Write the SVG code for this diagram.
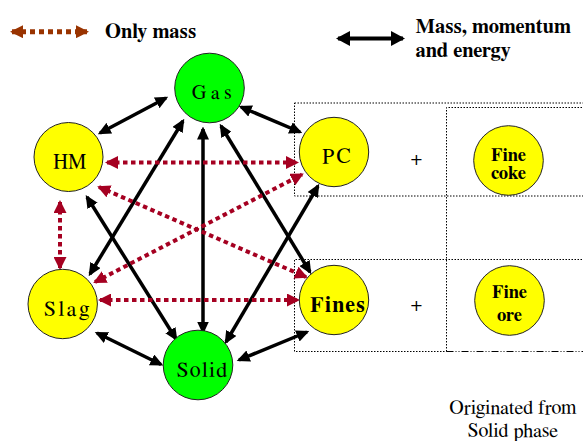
<svg xmlns="http://www.w3.org/2000/svg" width="583" height="441" viewBox="0 0 583 441">
<style>
.node{stroke:#222;stroke-width:1}
.g{fill:#00ff00}
.y{fill:#ffff00}
text{font-family:FreeSerif,'DejaVu Serif',serif;fill:#000}
.b{font-weight:bold}
.blk{stroke:#000;stroke-width:3.5;fill:none;marker-start:url(#ab);marker-end:url(#ab)}
.red{stroke:#a50021;stroke-width:4;stroke-dasharray:4.5 3.5;fill:none;marker-start:url(#ar);marker-end:url(#ar)}
.box{fill:none;stroke:#000;stroke-width:1;stroke-dasharray:1.5 1.5}
</style>
<defs>
<marker id="ab" viewBox="0 0 13 12" refX="10.5" refY="6" markerWidth="13" markerHeight="12" markerUnits="userSpaceOnUse" orient="auto-start-reverse"><path d="M0,0 L13,6 L0,12 z" fill="#000"/></marker>
<marker id="ar" viewBox="0 0 13 13" refX="11" refY="6.5" markerWidth="13" markerHeight="13" markerUnits="userSpaceOnUse" orient="auto-start-reverse"><path d="M0,0 L13,6.5 L0,13 z" fill="#a50021"/></marker>
<marker id="lr" viewBox="0 0 13 13" refX="11" refY="6.5" markerWidth="13" markerHeight="13" markerUnits="userSpaceOnUse" orient="auto-start-reverse"><path d="M0,0 L13,6.5 L0,13 z" fill="#993300"/></marker>
<marker id="lb" viewBox="0 0 14 15" refX="12" refY="7.5" markerWidth="14" markerHeight="15" markerUnits="userSpaceOnUse" orient="auto-start-reverse"><path d="M0,0 L14,7.5 L0,15 z" fill="#000"/></marker>
</defs>

<g id="legend">
<line x1="12" y1="31.7" x2="87" y2="31.7" stroke="#993300" stroke-width="5" stroke-dasharray="5 4" marker-start="url(#lr)" marker-end="url(#lr)"/>
<text class="b" x="105" y="37.5" font-size="20.5">Only mass</text>
<line x1="338" y1="38.5" x2="403" y2="38.5" stroke="#000" stroke-width="4" marker-start="url(#lb)" marker-end="url(#lb)"/>
<text class="b" x="415.5" y="33" font-size="20.5">Mass, momentum</text>
<text class="b" x="415.5" y="57" font-size="20.5">and energy</text>
</g>

<g id="boxes">
<rect class="box" x="294.5" y="103" width="320" height="93"/>
<path class="box" d="M600,107.5 H446.5 V351.5"/>
<path class="box" d="M600,259.5 H294.5 V351.5 H446.5"/>
<line x1="446.5" y1="351.5" x2="600" y2="351.5" stroke="#000" stroke-width="1" stroke-dasharray="7 2 1 2 1 2"/>
</g>

<g id="connectors">
<line class="blk" x1="100" y1="133" x2="166" y2="98"/>
<line class="blk" x1="241" y1="107" x2="300" y2="132"/>
<line class="blk" x1="203" y1="129" x2="203" y2="332"/>
<line class="blk" x1="90" y1="274" x2="183" y2="121"/>
<line class="blk" x1="87" y1="197" x2="176" y2="339"/>
<line class="blk" x1="221" y1="126" x2="310" y2="272"/>
<line class="blk" x1="226" y1="342" x2="318" y2="186"/>
<line class="blk" x1="97" y1="333" x2="161" y2="364.5"/>
<line class="blk" x1="239" y1="360" x2="307" y2="332"/>
<line class="red" x1="107" y1="162.5" x2="297" y2="162.5"/>
<line class="red" x1="99" y1="187" x2="306" y2="277"/>
<line class="red" x1="95" y1="282" x2="302" y2="174.5"/>
<line class="red" x1="100" y1="300" x2="298" y2="300"/>
<line class="red" x1="60" y1="202" x2="60" y2="268"/>
</g>

<g id="gas"><circle class="node g" cx="209.5" cy="88" r="34.8"/><text x="191.7" y="99.3" font-size="20" textLength="40" lengthAdjust="spacing">Gas</text></g>
<g id="hm"><circle class="node y" cx="68.5" cy="157" r="34.5"/><text x="53.3" y="168.3" font-size="21.5" textLength="32.7" lengthAdjust="spacingAndGlyphs">HM</text></g>
<g id="pc"><circle class="node y" cx="334" cy="152" r="34.7"/><text x="322.3" y="163.3" font-size="21.5" textLength="28.4" lengthAdjust="spacing">PC</text></g>
<g id="slag"><circle class="node y" cx="62.7" cy="304" r="34.7"/><text x="44" y="316" font-size="22" textLength="45.3" lengthAdjust="spacing">Slag</text></g>
<g id="solid"><circle class="node g" cx="198" cy="365" r="34.8"/><text x="176.7" y="376.7" font-size="22" textLength="50.6" lengthAdjust="spacing">Solid</text></g>
<g id="fines"><circle class="node y" cx="334" cy="300" r="34.7"/><text class="b" x="310" y="311.7" font-size="22" textLength="55" lengthAdjust="spacing">Fines</text></g>
<g id="finecoke"><circle class="node y" cx="508.5" cy="160.5" r="34.8"/><text class="b" x="508.5" y="160.5" font-size="18.5" text-anchor="middle">Fine</text><text class="b" x="508.5" y="179" font-size="18.5" text-anchor="middle">coke</text></g>
<g id="fineore"><circle class="node y" cx="509.5" cy="300.5" r="34.8"/><text class="b" x="509.5" y="297.7" font-size="18.5" text-anchor="middle">Fine</text><text class="b" x="509.5" y="321" font-size="18.5" text-anchor="middle">ore</text></g>

<g id="plus">
<text x="416.3" y="165" font-size="20" text-anchor="middle" fill="#333">+</text>
<text x="416.3" y="311" font-size="20" text-anchor="middle" fill="#333">+</text>
</g>

<g id="note">
<text x="513" y="414" font-size="20" text-anchor="middle">Originated from</text>
<text x="513" y="437" font-size="20" text-anchor="middle">Solid phase</text>
</g>
</svg>
